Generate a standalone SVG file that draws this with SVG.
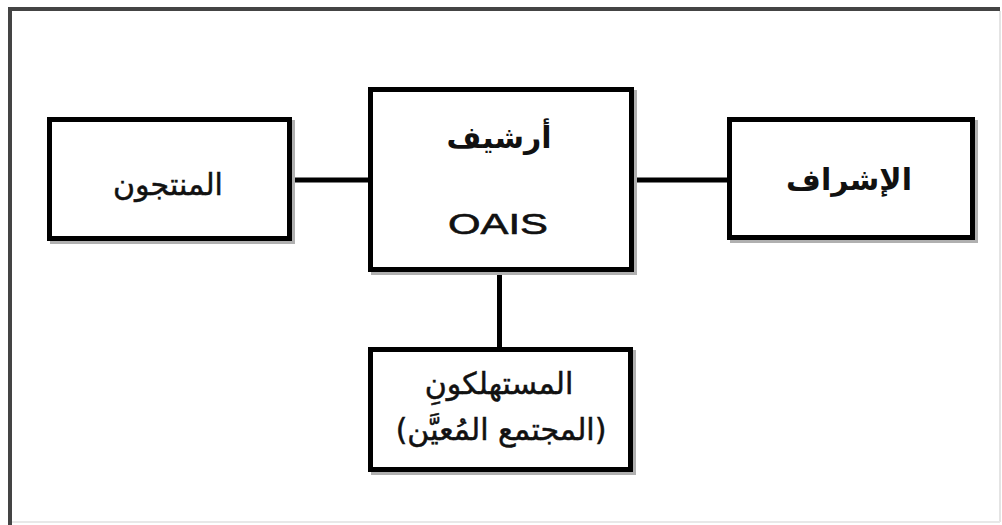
<svg xmlns="http://www.w3.org/2000/svg" width="1002" height="525" viewBox="0 0 1002 525">
<style>
.box{fill:#fff;stroke:#000;stroke-width:5}
.shadow{fill:none;stroke:#b0b0b0;stroke-width:5}
.conn{stroke:#000;stroke-width:5;fill:none}
.ar{font-family:"DejaVu Sans",sans-serif;font-size:30px;fill:#111;stroke:#111;stroke-width:0.5;text-anchor:middle;direction:rtl;unicode-bidi:embed}
.arb{font-weight:bold;stroke-width:0}
.lat{font-family:"Liberation Sans",Arial,sans-serif;font-size:29px;fill:#111;stroke:#111;stroke-width:0.6;text-anchor:middle}
</style>
<rect x="0" y="0" width="1002" height="525" fill="#fff"/>
<g id="frame">
<line x1="10" y1="9" x2="1000" y2="9" stroke="#444" stroke-width="4"/>
<line x1="10" y1="7" x2="10" y2="525" stroke="#444" stroke-width="4"/>
<line x1="1000" y1="11" x2="1000" y2="522" stroke="#e4e4e4" stroke-width="2"/>
<line x1="12" y1="522" x2="1000" y2="522" stroke="#e8e8e8" stroke-width="2"/>
</g>
<g id="connectors">
<line class="conn" x1="291" y1="180" x2="369" y2="180"/>
<line class="conn" x1="633" y1="180" x2="728" y2="180"/>
<line class="conn" x1="499.5" y1="271" x2="499.5" y2="348"/>
</g>
<g id="producers">
<rect class="shadow" x="52.5" y="122.5" width="240" height="119"/>
<rect class="box" x="49.5" y="119.5" width="240" height="119"/>
<text class="ar" x="168" y="195">المنتجون</text>
</g>
<g id="archive">
<rect class="shadow" x="373.5" y="92.5" width="261" height="180"/>
<rect class="box" x="370.5" y="89.5" width="261" height="180"/>
<text class="ar arb" x="499" y="148">أرشيف</text>
<text class="lat" x="498" y="234" textLength="100" lengthAdjust="spacingAndGlyphs">OAIS</text>
</g>
<g id="management">
<rect class="shadow" x="732.5" y="122.5" width="243" height="118"/>
<rect class="box" x="729.5" y="119.5" width="243" height="118"/>
<text class="ar arb" x="849" y="190">الإشراف</text>
</g>
<g id="consumers">
<rect class="shadow" x="373.5" y="352.5" width="260" height="120"/>
<rect class="box" x="370.5" y="349.5" width="260" height="120"/>
<text class="ar" x="499" y="394">المستهلكونِ</text>
<text class="ar" x="501" y="440">(المجتمع المُعيَّن)</text>
</g>
</svg>
